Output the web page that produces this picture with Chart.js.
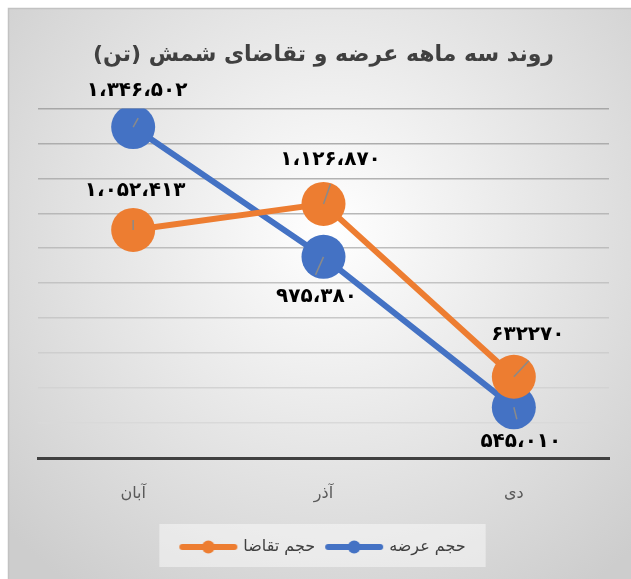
<!DOCTYPE html>
<html>
<head>
<meta charset="utf-8">
<script src="https://cdn.jsdelivr.net/npm/chart.js@4.4.1/dist/chart.umd.min.js"></script>
<style>
  html, body { margin: 0; padding: 0; background: #fff; }
  #chart { display: block; }
</style>
</head>
<body>
<canvas id="chart" width="631" height="579"></canvas>
<script>
// --- data ---
const months = ['آبان', 'آذر', 'دی'];
const demand = [1052413, 1126870, 632270];   // حجم تقاضا
const supply = [1346502, 975380, 545010];    // حجم عرضه
const demandLabels = ['۱،۰۵۲،۴۱۳', '۱،۱۲۶،۸۷۰', '۶۳۲۲۷۰'];
const supplyLabels = ['۱،۳۴۶،۵۰۲', '۹۷۵،۳۸۰', '۵۴۵،۰۱۰'];
const yMin = 400000;
const yMax = 1400000;
const yStep = 100000;

const BLUE = '#4472C4';
const ORANGE = '#ED7D31';
const FA_FONT = "'DejaVu Sans', 'Noto Sans', sans-serif";

// legend symbol: line with a dot in the middle
function legendSymbol(color) {
    const c = document.createElement('canvas');
    c.width = 60; c.height = 14;
    const x = c.getContext('2d');
    x.strokeStyle = color;
    x.lineWidth = 6;
    x.lineCap = 'round';
    x.beginPath(); x.moveTo(4, 7); x.lineTo(56, 7); x.stroke();
    x.fillStyle = color;
    x.beginPath(); x.arc(30, 7, 6.5, 0, Math.PI * 2); x.fill();
    return c;
}

const backdrop = {
    id: 'backdrop',
    beforeDraw(chart) {
        const { ctx, width, height } = chart;
        ctx.save();
        ctx.fillStyle = '#fff';
        ctx.fillRect(0, 0, width, height);
        const g = ctx.createRadialGradient(330, 230, 0, 330, 230, 440);
        g.addColorStop(0, '#ffffff');
        g.addColorStop(1, '#cdcdcd');
        ctx.fillStyle = g;
        ctx.fillRect(8, 8, width - 8, height - 8);
        ctx.strokeStyle = '#c2c2c2';
        ctx.lineWidth = 1.5;
        ctx.beginPath();
        ctx.moveTo(8.5, height); ctx.lineTo(8.5, 8.5); ctx.lineTo(width, 8.5);
        ctx.stroke();

        // light box behind the legend
        const boxes = chart.legend && chart.legend.legendHitBoxes;
        if (boxes && boxes.length) {
            const l = Math.min(...boxes.map(b => b.left)) - 22;
            const r = Math.max(...boxes.map(b => b.left + b.width)) + 20;
            ctx.fillStyle = 'rgba(255,255,255,0.45)';
            ctx.fillRect(l, chart.legend.top - 3, r - l, chart.legend.height + 5);
        }
        ctx.restore();
    }
};

// data labels and the small gray leader ticks inside the markers
const pointLabels = {
    id: 'pointLabels',
    afterDatasetsDraw(chart, args, opts) {
        const ctx = chart.ctx;
        ctx.save();
        chart.data.datasets.forEach((ds, di) => {
            const meta = chart.getDatasetMeta(di);
            const cfg = opts.layout[di];
            meta.data.forEach((pt, i) => {
                const [dx, dy] = cfg.offset[i];
                const [lx, ly] = cfg.leader[i];
                ctx.strokeStyle = '#8a8a8a';
                ctx.lineWidth = 1.5;
                ctx.beginPath();
                ctx.moveTo(pt.x, pt.y);
                ctx.lineTo(pt.x + lx, pt.y + ly);
                ctx.stroke();

                ctx.fillStyle = '#000';
                ctx.font = 'bold 20px ' + FA_FONT;
                ctx.textAlign = 'center';
                ctx.textBaseline = 'middle';
                ctx.fillText(ds.pointText[i], pt.x + dx, pt.y + dy);
            });
        });
        ctx.restore();
    }
};

new Chart(document.getElementById('chart'), {
    type: 'line',
    data: {
        labels: months,
        datasets: [
            {
                label: 'حجم تقاضا',
                data: demand,
                pointText: demandLabels,
                borderColor: ORANGE,
                backgroundColor: ORANGE,
                pointBackgroundColor: ORANGE,
                pointBorderColor: ORANGE
            },
            {
                label: 'حجم عرضه',
                data: supply,
                pointText: supplyLabels,
                borderColor: BLUE,
                backgroundColor: BLUE,
                pointBackgroundColor: BLUE,
                pointBorderColor: BLUE
            }
        ]
    },
    options: {
        responsive: false,
        animation: false,
        layout: { padding: { left: 38, right: 22, top: 0, bottom: 14 } },
        elements: {
            line: { borderWidth: 6, tension: 0 },
            point: { pointStyle: 'circle', radius: 22, hoverRadius: 22, borderWidth: 0 }
        },
        scales: {
            x: {
                offset: true,
                grid: { display: false, drawTicks: false },
                border: { display: true, color: '#404040', width: 3 },
                ticks: {
                    color: '#595959',
                    font: { family: FA_FONT, size: 16 },
                    padding: 26
                },
                afterFit(scale) { scale.height = 69; }
            },
            y: {
                min: yMin,
                max: yMax,
                grid: {
                    drawTicks: false,
                    lineWidth: 1.5,
                    color: ctx => {
                        const t = ctx.index / 10;
                        const c = Math.round(222 - t * 55);
                        return `rgb(${c},${c},${c})`;
                    }
                },
                border: { display: false },
                ticks: { display: false, stepSize: yStep }
            }
        },
        plugins: {
            title: {
                display: true,
                text: 'روند سه ماهه عرضه و تقاضای شمش (تن)',
                color: '#404040',
                font: { family: FA_FONT, size: 22, weight: 'bold' },
                padding: { top: 42, bottom: 40 }
            },
            legend: {
                position: 'bottom',
                labels: {
                    usePointStyle: true,
                    pointStyleWidth: 54,
                    padding: 12,
                    color: '#404040',
                    font: { family: FA_FONT, size: 16 },
                    generateLabels(chart) {
                        return chart.data.datasets.map((ds, i) => ({
                            text: ds.label,
                            pointStyle: legendSymbol(ds.borderColor),
                            fillStyle: ds.borderColor,
                            strokeStyle: ds.borderColor,
                            lineWidth: 0,
                            fontColor: '#404040',
                            datasetIndex: i
                        }));
                    }
                }
            },
            tooltip: { enabled: false },
            pointLabels: {
                layout: [
                    { // demand
                        offset: [[2, -39], [7, -44], [14, -42]],
                        leader: [[0, -10], [7, -20], [15, -16]]
                    },
                    { // supply
                        offset: [[4, -36], [-7, 40], [7, 34]],
                        leader: [[5, -9], [-8, 18], [3, 12]]
                    }
                ]
            }
        }
    },
    plugins: [backdrop, pointLabels]
});
</script>
</body>
</html>
